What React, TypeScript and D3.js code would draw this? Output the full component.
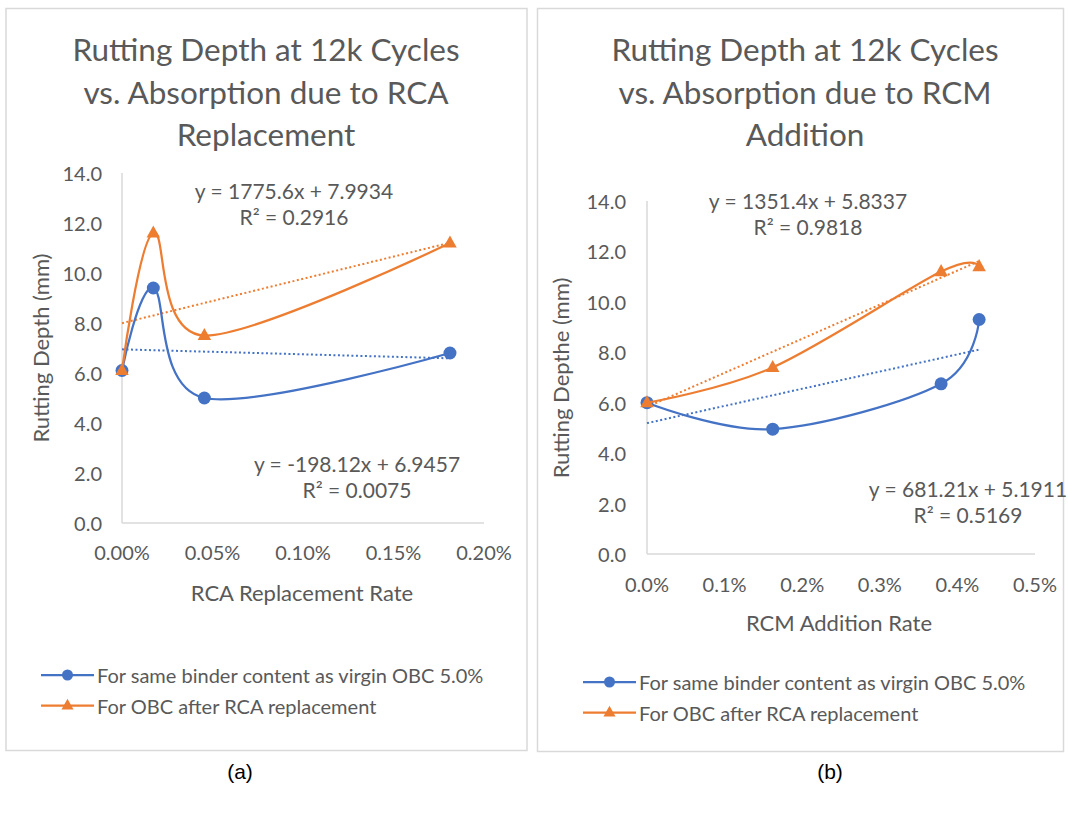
import React from "react";
import * as d3 from "d3";

// ---------- DATA ----------
const xRateA = [0, 0.000173, 0.000455, 0.001812];
const sameBinderA = [6.1, 9.4, 5.0, 6.8];
const obcAfterA = [6.1, 11.6, 7.5, 11.2];
const trendSlopeA = [-198.12, 1775.6];
const trendInterceptA = [6.9457, 7.9934];
const trendLabelsA = [
  ["y = -198.12x + 6.9457", "R² = 0.0075"],
  ["y = 1775.6x + 7.9934", "R² = 0.2916"],
];
const xTicksA = [0, 0.0005, 0.001, 0.0015, 0.002];

const xRateB = [0, 0.00162, 0.00379, 0.00428];
const sameBinderB = [6.0, 4.95, 6.75, 9.3];
const obcAfterB = [6.0, 7.4, 11.2, 11.4];
const trendSlopeB = [681.21, 1351.4];
const trendInterceptB = [5.1911, 5.8337];
const trendLabelsB = [
  ["y = 681.21x + 5.1911", "R² = 0.5169"],
  ["y = 1351.4x + 5.8337", "R² = 0.9818"],
];
const xTicksB = [0, 0.001, 0.002, 0.003, 0.004, 0.005];

const yTicks = [0, 2, 4, 6, 8, 10, 12, 14];
const seriesNames = [
  "For same binder content as virgin OBC 5.0%",
  "For OBC after RCA replacement",
];
const titlesA = ["Rutting Depth at 12k Cycles", "vs. Absorption due to RCA", "Replacement"];
const titlesB = ["Rutting Depth at 12k Cycles", "vs. Absorption due to RCM", "Addition"];

// ---------- STYLE ----------
const BLUE = "#4472C4";
const ORANGE = "#ED7D31";
const TXT = "#595959";
const AXIS = "#D9D9D9";
const FONT = "Lato, 'Open Sans', sans-serif";

type PanelProps = {
  box: [number, number, number, number];
  titles: string[];
  titleCx: number;
  xs: number[];
  blue: number[];
  orange: number[];
  slopes: number[];
  intercepts: number[];
  eqLabels: string[][];
  eqPos: [number, number][];
  xTicks: number[];
  xFmt: (v: number) => string;
  xRange: [number, number];
  yRange: [number, number];
  yLabelGap: number;
  xLabelGap: number;
  xTitle: string;
  xTitlePos: [number, number];
  yTitle: string;
  yTitlePos: [number, number];
  legend: [number, number, number];
};

function Triangle({ x, y, s, fill }: { x: number; y: number; s: number; fill: string }) {
  const h = s * 0.9;
  return (
    <path
      d={`M${x},${y - h * 0.62}L${x + s / 2},${y + h * 0.38}L${x - s / 2},${y + h * 0.38}Z`}
      fill={fill}
    />
  );
}

function Panel(p: PanelProps) {
  const x = d3.scaleLinear().domain([p.xTicks[0], p.xTicks[p.xTicks.length - 1]]).range(p.xRange);
  const y = d3.scaleLinear().domain([0, 14]).range(p.yRange);
  const line = d3
    .line<number>()
    .x((_, i) => x(p.xs[i]))
    .y((d) => y(d))
    .curve(d3.curveCardinal.tension(0));
  const xMax = p.xs[p.xs.length - 1];
  const series = [
    { vals: p.blue, color: BLUE, shape: "circle" },
    { vals: p.orange, color: ORANGE, shape: "tri" },
  ];
  const [bx, by, bw, bh] = p.box;
  return (
    <g>
      <rect x={bx} y={by} width={bw} height={bh} fill="#fff" stroke={AXIS} strokeWidth={1.5} />
      {p.titles.map((t, i) => (
        <text
          key={i}
          x={p.titleCx}
          y={49 + i * 42.5}
          textAnchor="middle"
          dominantBaseline="central"
          fontSize={31.5}
          fill={TXT}
          fontFamily={FONT}
        >
          {t}
        </text>
      ))}
      {/* axes */}
      <line x1={x.range()[0]} x2={x.range()[0]} y1={y(0)} y2={y(14)} stroke={AXIS} strokeWidth={1.5} />
      <line x1={x.range()[0]} x2={x.range()[1]} y1={y(0)} y2={y(0)} stroke={AXIS} strokeWidth={1.5} />
      {yTicks.map((t) => (
        <text
          key={t}
          x={x.range()[0] - p.yLabelGap}
          y={y(t)}
          textAnchor="end"
          dominantBaseline="central"
          fontSize={20}
          fill={TXT}
          fontFamily={FONT}
        >
          {t.toFixed(1)}
        </text>
      ))}
      {p.xTicks.map((t) => (
        <text
          key={t}
          x={x(t)}
          y={y(0) + p.xLabelGap}
          textAnchor="middle"
          dominantBaseline="central"
          fontSize={20}
          fill={TXT}
          fontFamily={FONT}
        >
          {p.xFmt(t)}
        </text>
      ))}
      <text
        x={p.xTitlePos[0]}
        y={p.xTitlePos[1]}
        textAnchor="middle"
        dominantBaseline="central"
        fontSize={22}
        fill={TXT}
        fontFamily={FONT}
      >
        {p.xTitle}
      </text>
      <text
        transform={`translate(${p.yTitlePos[0]},${p.yTitlePos[1]}) rotate(-90)`}
        textAnchor="middle"
        dominantBaseline="central"
        fontSize={22}
        fill={TXT}
        fontFamily={FONT}
      >
        {p.yTitle}
      </text>
      {/* trendlines */}
      {series.map((s, i) => (
        <line
          key={"t" + i}
          x1={x(0)}
          x2={x(xMax)}
          y1={y(p.intercepts[i])}
          y2={y(p.intercepts[i] + p.slopes[i] * xMax)}
          stroke={s.color}
          strokeWidth={2}
          strokeDasharray="2 2.5"
        />
      ))}
      {/* series */}
      {series.map((s, i) => (
        <g key={"s" + i}>
          <path d={line(s.vals) || ""} fill="none" stroke={s.color} strokeWidth={2.25} />
          {s.vals.map((v, j) =>
            s.shape === "circle" ? (
              <circle key={j} cx={x(p.xs[j])} cy={y(v)} r={6.5} fill={s.color} />
            ) : (
              <Triangle key={j} x={x(p.xs[j])} y={y(v)} s={13.5} fill={s.color} />
            )
          )}
        </g>
      ))}
      {/* equations */}
      {p.eqLabels.map((lines, i) =>
        lines.map((t, k) => (
          <text
            key={i + "-" + k}
            x={p.eqPos[i][0]}
            y={p.eqPos[i][1] + k * 26}
            textAnchor="middle"
            dominantBaseline="central"
            fontSize={21}
            fill={TXT}
            fontFamily={FONT}
          >
            {t}
          </text>
        ))
      )}
      {/* legend */}
      {series.map((s, i) => {
        const ly = p.legend[1] + i * 30.5;
        const lx = p.legend[0];
        return (
          <g key={"l" + i}>
            <line x1={lx} x2={lx + 53} y1={ly} y2={ly} stroke={s.color} strokeWidth={2.25} />
            {s.shape === "circle" ? (
              <circle cx={lx + 26.5} cy={ly} r={5.5} fill={s.color} />
            ) : (
              <Triangle x={lx + 26.5} y={ly} s={12} fill={s.color} />
            )}
            <text
              x={lx + 56}
              y={ly}
              dominantBaseline="central"
              fontSize={p.legend[2]}
              fill={TXT}
              fontFamily={FONT}
            >
              {seriesNames[i]}
            </text>
          </g>
        );
      })}
    </g>
  );
}

export default function App() {
  const fmtA = d3.format(".2%");
  const fmtB = d3.format(".1%");
  return (
    <svg
      width={1068}
      height={814}
      style={{ position: "absolute", left: 0, top: 0, background: "#fff" }}
    >
      <rect x={0} y={0} width={1068} height={814} fill="#fff" />
      <Panel
        box={[6, 8.5, 521, 742]}
        titles={titlesA}
        titleCx={266}
        xs={xRateA}
        blue={sameBinderA}
        orange={obcAfterA}
        slopes={trendSlopeA}
        intercepts={trendInterceptA}
        eqLabels={trendLabelsA}
        eqPos={[
          [357, 463],
          [294, 190],
        ]}
        xTicks={xTicksA}
        xFmt={fmtA}
        xRange={[122, 484]}
        yRange={[523, 173]}
        yLabelGap={20}
        xLabelGap={29}
        xTitle="RCA Replacement Rate"
        xTitlePos={[302, 592]}
        yTitle="Rutting Depth (mm)"
        yTitlePos={[40, 348]}
        legend={[41, 675, 20]}
      />
      <Panel
        box={[537.5, 8.5, 526, 743]}
        titles={titlesB}
        titleCx={805}
        xs={xRateB}
        blue={sameBinderB}
        orange={obcAfterB}
        slopes={trendSlopeB}
        intercepts={trendInterceptB}
        eqLabels={trendLabelsB}
        eqPos={[
          [968, 488],
          [808, 200],
        ]}
        xTicks={xTicksB}
        xFmt={fmtB}
        xRange={[647, 1035]}
        yRange={[554, 201]}
        yLabelGap={21}
        xLabelGap={30}
        xTitle="RCM Addition Rate"
        xTitlePos={[839, 622]}
        yTitle="Rutting Depthe (mm)"
        yTitlePos={[560, 378]}
        legend={[583, 682, 20]}
      />
      <text x={240} y={771} textAnchor="middle" dominantBaseline="central" fontSize={21} fontFamily="'Liberation Sans', Arial, sans-serif" fill="#000">
        (a)
      </text>
      <text x={830} y={771} textAnchor="middle" dominantBaseline="central" fontSize={21} fontFamily="'Liberation Sans', Arial, sans-serif" fill="#000">
        (b)
      </text>
    </svg>
  );
}
